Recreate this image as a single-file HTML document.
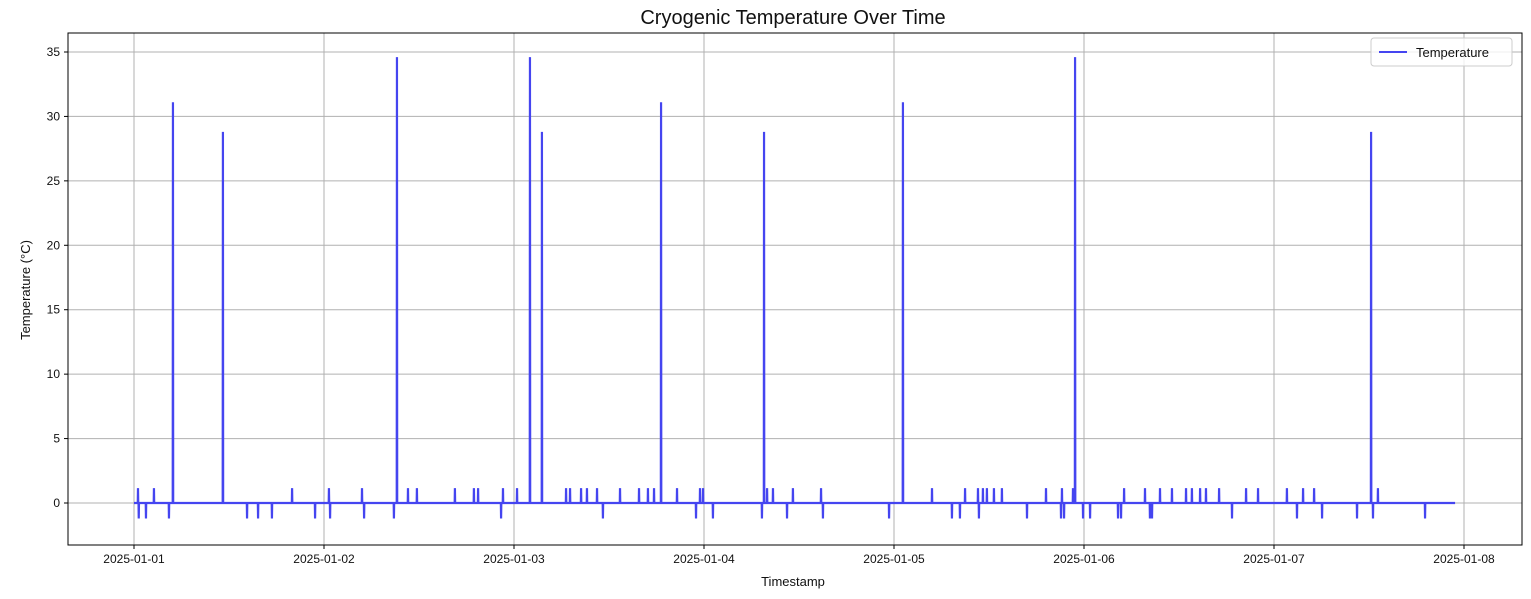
<!DOCTYPE html>
<html><head><meta charset="utf-8"><style>
body{margin:0;background:#fff;}
svg{display:block;font-family:"Liberation Sans","DejaVu Sans",sans-serif;}
</style></head><body>
<svg id="chart" width="1531" height="599">
<rect width="1531" height="599" fill="#fff"/>
<text x="793" y="24" font-size="20" text-anchor="middle" fill="#111">Cryogenic Temperature Over Time</text>
<g id="grid"></g><g id="axes"></g><g id="series"></g>
<text x="793" y="586" font-size="13" text-anchor="middle" fill="#111">Timestamp</text>
<text transform="translate(30,290) rotate(-90)" font-size="13" text-anchor="middle" fill="#111">Temperature (°C)</text>
<g>
<rect x="1371" y="38" width="141" height="28" rx="3" fill="#fff" fill-opacity="0.8" stroke="#ccc"/>
<line x1="1379" y1="52" x2="1407" y2="52" stroke="#4545f0" stroke-width="2"/>
<text x="1416" y="57" font-size="13" fill="#111">Temperature</text>
</g>
</svg>
<script>
const xTickLabels=["2025-01-01","2025-01-02","2025-01-03","2025-01-04","2025-01-05","2025-01-06","2025-01-07","2025-01-08"];
const yTicks=[0,5,10,15,20,25,30,35];
const spikeDays=[0.205,0.468,1.384,2.084,2.147,2.774,3.316,4.047,4.953,6.511];
const spikeValues=[31.1,28.8,34.6,34.6,28.8,31.1,28.8,31.1,34.6,28.8];
const upBlipDays=[0.021,0.105,0.832,1.026,1.2,1.442,1.489,1.689,1.789,1.811,1.942,2.016,2.274,2.295,2.353,2.384,2.437,2.558,2.658,2.705,2.737,2.858,2.979,2.995,3.332,3.363,3.468,3.616,4.2,4.374,4.442,4.468,4.489,4.526,4.568,4.8,4.884,4.942,5.211,5.321,5.4,5.463,5.537,5.568,5.611,5.642,5.711,5.853,5.916,6.068,6.153,6.211,6.547];
const upBlipValue=1.15;
const downBlipDays=[0.025,0.063,0.184,0.595,0.653,0.726,0.953,1.032,1.211,1.368,1.932,2.468,2.958,3.047,3.305,3.437,3.626,3.974,4.305,4.347,4.447,4.7,4.879,4.895,4.995,5.032,5.179,5.195,5.347,5.358,5.779,6.121,6.253,6.437,6.521,6.795];
const downBlipValue=-1.2;
const startDay=0,endDay=6.953;

const L=68,R=1522,T=33,B=545;
const xS=d=>134+d*190;
const yS=v=>503-v*(451/35);
const NS="http://www.w3.org/2000/svg";
function mk(tag,attrs,parent){const e=document.createElementNS(NS,tag);for(const k in attrs)e.setAttribute(k,attrs[k]);parent.appendChild(e);return e;}
const grid=document.getElementById('grid'),axes=document.getElementById('axes'),series=document.getElementById('series');
xTickLabels.forEach((lab,i)=>{
  const x=xS(i);
  const g=mk('line',{x1:x,y1:T,x2:x,y2:B,stroke:'#b0b0b0','stroke-width':1},grid);
  
  
  mk('line',{x1:x,y1:B,x2:x,y2:B+4,stroke:'#000'},axes);
  const t=mk('text',{x:x,y:B+18,'font-size':12,'text-anchor':'middle',fill:'#111'},axes);
  t.textContent=lab;
  
  
});
yTicks.forEach(v=>{
  const y=yS(v);
  const g=mk('line',{x1:L,y1:y,x2:R,y2:y,stroke:'#b0b0b0','stroke-width':1},grid);
  
  
  mk('line',{x1:L-4,y1:y,x2:L,y2:y,stroke:'#000'},axes);
  const t=mk('text',{x:L-8,y:y+4,'font-size':12,'text-anchor':'end',fill:'#111'},axes);
  t.textContent=v;
  
  
});
const frame=mk('rect',{x:L,y:T,width:R-L,height:B-T,fill:'none',stroke:'#000','stroke-width':1},axes);


const ev=[];
spikeDays.forEach((d,i)=>ev.push([d,spikeValues[i]]));
upBlipDays.forEach(d=>ev.push([d,upBlipValue]));
downBlipDays.forEach(d=>ev.push([d,downBlipValue]));
ev.sort((a,b)=>a[0]-b[0]);
const eps=0.0012;
let p=`M${xS(startDay)},${yS(0)}`;
ev.forEach(([d,v])=>{p+=`L${xS(d-eps)},${yS(0)}L${xS(d)},${yS(v)}L${xS(d+eps)},${yS(0)}`;});
p+=`L${xS(endDay)},${yS(0)}`;
const path=mk('path',{d:p,fill:'none',stroke:'#4545f0','stroke-width':2.2,'stroke-linejoin':'miter'},series);


</script>
</body></html>
